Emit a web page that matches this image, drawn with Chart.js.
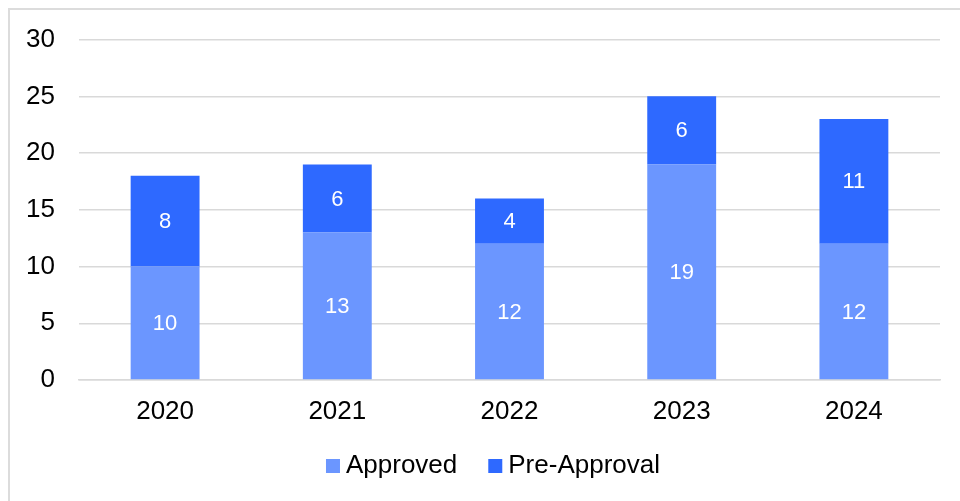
<!DOCTYPE html>
<html>
<head>
<meta charset="utf-8">
<script src="https://cdn.jsdelivr.net/npm/chart.js@4.4.1/dist/chart.umd.min.js"></script>
<style>
  html, body { margin: 0; padding: 0; background: #fff; }
  #wrap { position: relative; width: 960px; height: 501px; overflow: hidden; }
  #frame { position: absolute; left: 8px; top: 8px; width: 980px; height: 520px; border: 2px solid #dcdcdc; box-sizing: border-box; }
  canvas { position: absolute; left: 0; top: 0; }
</style>
</head>
<body>
<div id="wrap">
  <div id="frame"></div>
  <canvas id="bar_chart" width="960" height="501"></canvas>
</div>
<script>
var years = ['2020', '2021', '2022', '2023', '2024'];
var approved = [10, 13, 12, 19, 12];
var preApproval = [8, 6, 4, 6, 11];
var yTicks = [0, 5, 10, 15, 20, 25, 30];

Chart.defaults.font.family = '"Liberation Sans", Arial, sans-serif';
Chart.defaults.color = '#000';

// white value labels in the middle of each segment
var barLabels = {
    id: 'barLabels',
    afterDatasetsDraw: function (chart) {
        var ctx = chart.ctx;
        ctx.save();
        ctx.fillStyle = '#fff';
        ctx.font = '22px "Liberation Sans", Arial, sans-serif';
        ctx.textAlign = 'center';
        ctx.textBaseline = 'middle';
        chart.data.datasets.forEach(function (ds, i) {
            chart.getDatasetMeta(i).data.forEach(function (bar, j) {
                ctx.fillText(ds.data[j], bar.x, (bar.y + bar.base) / 2 + 1);
            });
        });
        ctx.restore();
    }
};

// legend drawn by hand so the box/text gap is tight like the original
var bottomLegend = {
    id: 'bottomLegend',
    afterDraw: function (chart) {
        var ctx = chart.ctx;
        var ds = chart.data.datasets;
        ctx.save();
        ctx.font = '26px "Liberation Sans", Arial, sans-serif';
        ctx.textBaseline = 'middle';
        var box = 14, gap = 6, spacing = 31, y = 466;
        var total = 0;
        ds.forEach(function (d, i) {
            total += box + gap + ctx.measureText(d.label).width + (i ? spacing : 0);
        });
        var x = 493 - total / 2;
        ds.forEach(function (d) {
            ctx.fillStyle = d.backgroundColor;
            ctx.fillRect(x, y - 7, box, box);
            x += box + gap;
            ctx.fillStyle = '#000';
            ctx.fillText(d.label, x, y);
            x += ctx.measureText(d.label).width + spacing;
        });
        ctx.restore();
    }
};

var ctx = document.getElementById('bar_chart').getContext('2d');
var chart = new Chart(ctx, {
    type: 'bar',
    data: {
        labels: years,
        datasets: [{
            label: 'Approved',
            data: approved,
            backgroundColor: '#6b96ff',
            barPercentage: 0.4,
            categoryPercentage: 1
        }, {
            label: 'Pre-Approval',
            data: preApproval,
            backgroundColor: '#2e69ff',
            barPercentage: 0.4,
            categoryPercentage: 1
        }]
    },
    options: {
        responsive: false,
        animation: false,
        layout: { padding: { top: 38, right: 20, bottom: 0, left: 0 } },
        scales: {
            x: {
                stacked: true,
                grid: { display: false },
                border: { color: '#d9d9d9', width: 1.5 },
                ticks: { font: { size: 26 }, padding: 8 },
                afterFit: function (scale) { scale.height = 121; }
            },
            y: {
                stacked: true,
                min: 0,
                max: 30,
                afterBuildTicks: function (scale) {
                    scale.ticks = yTicks.map(function (v) { return { value: v }; });
                },
                grid: { color: '#d9d9d9', lineWidth: 1.5, drawTicks: false },
                border: { display: false },
                ticks: { font: { size: 26 }, padding: 24 },
                afterFit: function (scale) { scale.width = 79; }
            }
        },
        plugins: {
            legend: { display: false },
            tooltip: { enabled: false }
        }
    },
    plugins: [barLabels, bottomLegend]
});
</script>
</body>
</html>
